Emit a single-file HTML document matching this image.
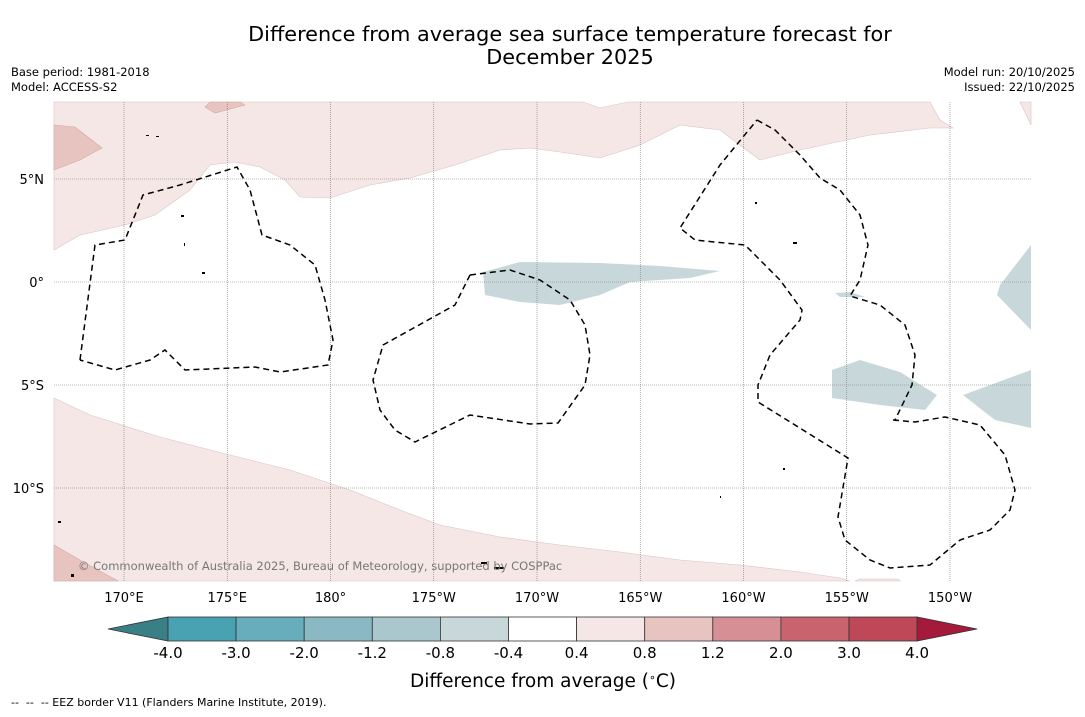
<!DOCTYPE html>
<html><head><meta charset="utf-8"><style>
body{margin:0;background:#fff;font-family:"DejaVu Sans","Liberation Sans",sans-serif;}
svg text{font-family:"DejaVu Sans","Liberation Sans",sans-serif;}
</style></head><body>
<svg id="chart" width="1085" height="713" viewBox="0 0 1085 713" xmlns="http://www.w3.org/2000/svg">
<text x="570" y="41" font-size="20.8" text-anchor="middle">Difference from average sea surface temperature forecast for</text>
<text x="570" y="64" font-size="20.8" text-anchor="middle">December 2025</text>
<text x="11" y="76" font-size="11.5">Base period: 1981-2018</text>
<text x="11" y="91" font-size="11.5">Model: ACCESS-S2</text>
<text x="1075" y="76" font-size="11.5" text-anchor="end">Model run: 20/10/2025</text>
<text x="1075" y="91" font-size="11.5" text-anchor="end">Issued: 22/10/2025</text>
<g id="map">
<rect x="54" y="102" width="977" height="479" fill="#fff"/>
<polygon fill="#f5e7e6" stroke="#d9c4c2" stroke-width="0.6" points="54,102 583,102 600,108 628,102 930,102 940,120 953,128 930,128 870,135 800,150 760,160 720,130 680,125 640,145 600,158 560,152 530,148 500,150 455,165 410,178 370,185 330,198 300,197 285,180 260,167 235,162 210,165 190,190 155,215 125,225 80,235 54,250"/>
<polygon fill="#f5e7e6" stroke="#d9c4c2" stroke-width="0.6" points="1020,102 1031,102 1031,125"/>
<polygon fill="#e8c4c0" stroke="#d0aaa6" stroke-width="0.6" points="54,125 75,127 102,148 80,160 54,170"/>
<polygon fill="#e8c4c0" stroke="#d0aaa6" stroke-width="0.6" points="205,107 215,113 245,105 240,102 210,102"/>
<polygon fill="#f5e7e6" stroke="#d9c4c2" stroke-width="0.6" points="54,398 90,415 160,437 230,455 290,470 350,490 400,510 440,525 500,537 560,545 620,552 680,560 740,565 800,572 840,578 850,581 54,581"/>
<polygon fill="#f5e7e6" stroke="#d9c4c2" stroke-width="0.6" points="855,581 860,579 898,579 900,581"/>
<polygon fill="#e8c4c0" stroke="#d0aaa6" stroke-width="0.6" points="54,545 80,560 118,581 54,581"/>
<g fill="#c8d8da">
<polygon points="483,272 520,262 600,263 660,266 720,271 690,278 630,282 600,295 560,305 520,302 485,295"/>
<polygon points="835,293 850,292 865,297 840,297"/>
<polygon points="832,370 860,360 900,372 937,395 925,410 880,405 832,398"/>
<polygon points="1031,245 1000,285 997,295 1031,330"/>
<polygon points="963,395 1031,370 1031,428 995,420"/>
</g>
<g id="grid" stroke="#777" stroke-width="0.6" stroke-dasharray="1,1" fill="none"></g>
<g fill="none" stroke="#000" stroke-width="1.5" stroke-dasharray="6,4">
<polyline points="80,360 95,245 125,240 143,195 180,185 237,167 250,190 262,235 290,245 315,265 325,300 333,340 328,365 280,372 255,367 185,370 165,350 150,360 115,370 80,360"/>
<polyline points="470,275 510,270 540,280 570,300 585,325 590,355 585,385 558,423 530,424 470,415 415,442 395,430 380,410 373,380 383,345 410,330 455,305 470,275"/>
<polyline points="757,120 775,130 800,155 820,178 840,190 860,215 868,245 860,280 850,296 880,305 905,325 915,355 912,385 895,420"/>
<polyline points="893,420 915,422 945,417 980,425 1005,455 1015,490 1010,510 990,530 960,540 930,565 890,568 870,560 845,540 838,517 848,458 758,402 758,385 770,355 800,320 802,310 780,280 745,245 695,240 680,228 720,165 757,120"/>
</g>
<g fill="#000">
<rect x="146" y="135" width="3" height="1"/><rect x="156" y="136" width="3" height="1"/><rect x="184" y="243" width="1" height="3"/><rect x="494" y="567" width="10" height="2"/><rect x="481" y="562" width="6" height="2"/><rect x="58" y="521" width="3" height="2"/><rect x="71" y="574" width="3" height="3"/><rect x="793" y="242" width="4" height="2"/><rect x="755" y="202" width="2" height="2"/><rect x="181" y="215" width="3" height="2"/><rect x="202" y="272" width="3" height="2"/><rect x="720" y="496" width="1" height="2"/><rect x="783" y="468" width="2" height="2"/>
</g>
<text x="78" y="570" font-size="11.5" fill="#777">© Commonwealth of Australia 2025, Bureau of Meteorology, supported by COSPPac</text>
</g>
<g id="axes"></g>
<g id="colorbar"></g>
<text x="543" y="687" font-size="18.5" text-anchor="middle">Difference from average (<tspan baseline-shift="super" font-size="11">∘</tspan>C)</text>
<text x="11" y="706" font-size="11" xml:space="preserve" style="white-space:pre">--  --  -- EEZ border V11 (Flanders Marine Institute, 2019).</text>
</svg>
<script>
const lonTicks=[170,175,180,-175,-170,-165,-160,-155,-150];
const lonLabels=["170°E","175°E","180°","175°W","170°W","165°W","160°W","155°W","150°W"];
const latTicks=[5,0,-5,-10];
const latLabels=["5°N","0°","5°S","10°S"];
const cbLevels=["-4.0","-3.0","-2.0","-1.2","-0.8","-0.4","0.4","0.8","1.2","2.0","3.0","4.0"];
const cbColors=["#49a2b1","#68adbb","#8ab8c3","#a9c7cc","#c8d8da","#ffffff","#f5e7e6","#e8c4c0","#d68f95","#c9636d","#bf4858"];
const cbUnder="#3a7e86", cbOver="#a51a3a";
const NS="http://www.w3.org/2000/svg";
const X0=54,X1=1031,Y0=102,Y1=581;
function xLon(l){const e=l<0?l+360:l;return 124+(e-170)*20.65;}
function yLat(l){return 282-l*20.6;}
function mk(t,a,p){const e=document.createElementNS(NS,t);for(const k in a)e.setAttribute(k,a[k]);p.appendChild(e);return e;}
const grid=document.getElementById('grid'),axes=document.getElementById('axes');
lonTicks.forEach((l,i)=>{const x=xLon(l);
 const g=mk('line',{x1:x,x2:x,y1:Y0,y2:Y1},grid);
 
 
 const t=mk('text',{x:x,y:602,'font-size':13,'text-anchor':'middle'},axes);t.textContent=lonLabels[i];
 
 });
latTicks.forEach((l,i)=>{const y=yLat(l);
 const g=mk('line',{x1:X0,x2:X1,y1:y,y2:y},grid);
 
 
 const t=mk('text',{x:44,y:y+5,'font-size':13,'text-anchor':'end'},axes);t.textContent=latLabels[i];
 
 });
const cb=document.getElementById('colorbar');
const cx0=168,cw=68.1,cy=617,ch=24,n=cbColors.length;
const u=mk('polygon',{points:`${cx0},${cy} ${cx0},${cy+ch} 108,${cy+ch/2}`,fill:cbUnder,stroke:'#333','stroke-width':0.8},cb);


cbColors.forEach((c,i)=>{const r=mk('rect',{x:cx0+i*cw,y:cy,width:cw,height:ch,fill:c,stroke:'#333','stroke-width':0.8},cb);
 
 });
const xe=cx0+n*cw;
const o=mk('polygon',{points:`${xe},${cy} ${xe},${cy+ch} ${xe+60},${cy+ch/2}`,fill:cbOver,stroke:'#333','stroke-width':0.8},cb);


cbLevels.forEach((v,i)=>{const t=mk('text',{x:cx0+i*cw,y:658,'font-size':15,'text-anchor':'middle'},cb);t.textContent=v;
 
 });
</script>
</body></html>
